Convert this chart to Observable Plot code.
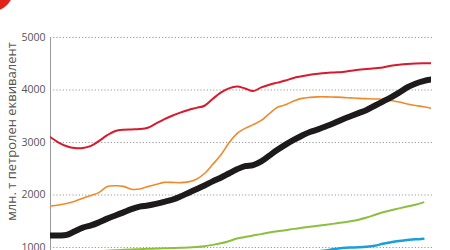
<!DOCTYPE html>
<html>
<head>
<meta charset="utf-8">
<script src="https://cdn.jsdelivr.net/npm/d3@7"></script>
<script src="https://cdn.jsdelivr.net/npm/@observablehq/plot@0.6"></script>
<style>
  html, body { margin: 0; padding: 0; background: #fff; overflow: hidden; }
  #wrap { position: relative; width: 450px; height: 250px; overflow: hidden; }
  #logo { position: absolute; left: -34px; top: -36px; width: 48px; height: 48px; border-radius: 50%; background: #e2231a; }
  #chart { position: absolute; left: 0; top: 0; }
</style>
</head>
<body>
<div id="wrap"><div id="chart"></div><div id="logo"></div></div>
<script>
const years = d3.range(1965, 2013);
const yTicks = [1000, 2000, 3000, 4000, 5000];
const yLabel = "млн. т петролен еквивалент";

const red = [3100,3000,2930,2895,2895,2935,3030,3140,3220,3245,3250,3255,3280,3360,3440,3510,3570,3620,3660,3700,3830,3950,4030,4065,4030,3980,4050,4100,4140,4180,4230,4260,4290,4310,4325,4335,4345,4365,4385,4400,4415,4430,4460,4480,4495,4505,4510,4510];
const orange = [1790,1810,1840,1880,1940,1990,2050,2160,2175,2165,2110,2115,2160,2200,2240,2240,2235,2250,2300,2410,2580,2760,2990,3170,3270,3340,3420,3550,3670,3720,3790,3840,3860,3870,3870,3865,3860,3850,3840,3835,3830,3825,3800,3770,3735,3705,3680,3650];
const black = [1230,1230,1240,1310,1380,1420,1480,1550,1610,1670,1730,1780,1800,1830,1870,1910,1970,2040,2110,2180,2260,2330,2410,2490,2550,2570,2640,2750,2860,2960,3050,3130,3200,3250,3310,3370,3440,3500,3560,3620,3700,3780,3860,3950,4050,4120,4170,4200];
const greenYears = d3.range(1965, 2012);
const green = [820,840,860,880,900,915,930,940,948,955,962,968,975,980,985,990,995,1000,1010,1025,1050,1080,1120,1170,1200,1230,1255,1285,1310,1330,1355,1375,1395,1415,1435,1455,1475,1500,1530,1570,1620,1670,1710,1745,1780,1815,1860];
const blueYears = d3.range(1995, 2012);
const blue = [870,890,905,925,945,970,990,1000,1005,1015,1035,1070,1100,1125,1145,1155,1165];

const series = [
  {name: "green", yrs: greenYears, vals: green, color: "#8dbf3f", w: 2},
  {name: "blue", yrs: blueYears, vals: blue, color: "#1b9fdb", w: 2.5},
  {name: "orange", yrs: years, vals: orange, color: "#f0892a", w: 1.6},
  {name: "red", yrs: years, vals: red, color: "#d81a2c", w: 2},
  {name: "black", yrs: years, vals: black, color: "#1c1a1a", w: 6}
];

const lineMarks = series.map(s => Plot.line(
  s.yrs.map((yr, i) => ({year: yr, value: s.vals[i]})),
  {x: "year", y: "value", stroke: s.color, strokeWidth: s.w, curve: "catmull-rom", clip: true, strokeLinejoin: "round"}
));

const plot = Plot.plot({
  width: 450,
  height: 250,
  marginLeft: 50,
  marginRight: 19,
  marginTop: 37,
  marginBottom: 0,
  style: {fontFamily: "'Open Sans', sans-serif", background: "transparent"},
  x: {domain: [1965, 2012], axis: null},
  y: {domain: [943, 5000]},
  marks: [
    Plot.ruleY(yTicks, {y: d => d, x1: 1965, x2: 2012.25, stroke: "#9a9a9a", strokeDasharray: "1.2,2", strokeWidth: 1}),
    Plot.ruleX([1965], {y1: 943, y2: 5000, stroke: "#9a9a9a", strokeWidth: 1}),
    Plot.axisY(yTicks, {tickSize: 0, tickPadding: 5, label: null, fontSize: 10.5, color: "#555", tickFormat: d => String(d)}),
    Plot.text([yLabel], {frameAnchor: "left", textAnchor: "middle", dx: -39, dy: -12.5, rotate: -90, fontSize: 13, fill: "#555"}),
    ...lineMarks
  ]
});
document.getElementById("chart").appendChild(plot);
</script>
</body>
</html>
